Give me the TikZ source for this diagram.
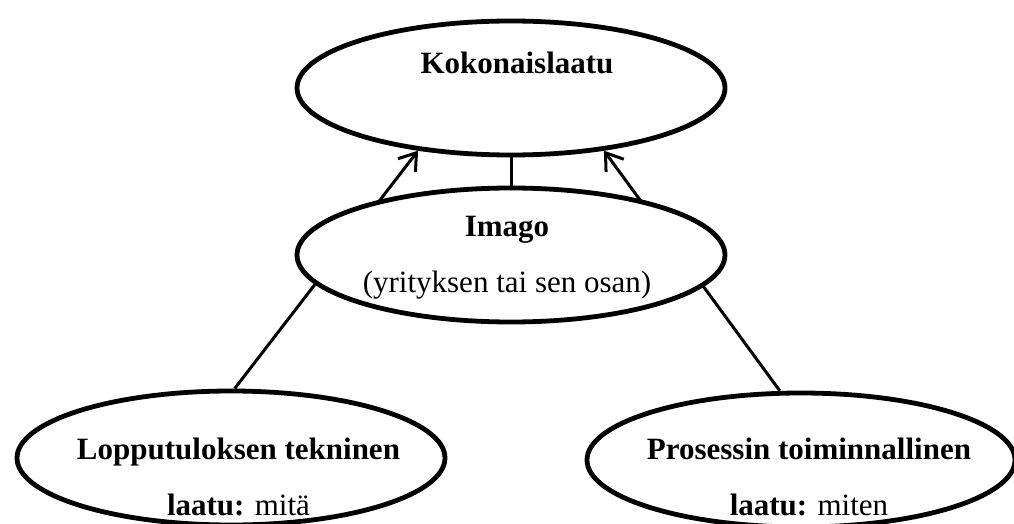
\documentclass[tikz,border=0pt]{standalone}
\usepackage{fontspec}
\setmainfont{Liberation Serif}
\usetikzlibrary{positioning}
\usetikzlibrary{backgrounds}
\usetikzlibrary{arrows.meta}
\usetikzlibrary{shapes.geometric}

\begin{document}
\begin{tikzpicture}[
            > = {Straight Barb[length=8pt, width=11pt]}, % open arrow head
            on grid, % distances between centres
            semithick % line style
        ]

        \tikzstyle{oval}=[
            ellipse,
            draw,
            line width = 2.4pt,
            fill = white,
            minimum width = 214pt,
            minimum height = 67pt,
            inner sep = 0pt
        ]
        \tikzstyle{caption}=[
            align = center,
            inner sep = 0pt,
            font = \fontsize{15.5}{28}\selectfont
        ]
        \tikzstyle{link}=[line width = 1.5pt]

        \useasboundingbox (0,0) rectangle (507pt,-262pt);

	% quality levels
        \node[oval] (Koko) at (255.5pt,-44pt) {};
        \node[oval] (Imago) [below=83.5pt of Koko] {};
        \node[oval] (Lop) [below left=101.5pt and 140pt of Imago] {};
        \node[oval] (Pro) [below right=102.5pt and 145pt of Imago] {};

        % texts
        \node[caption, xshift=3pt, yshift=12.75pt] (KokoT) at (Koko) {\textbf{Kokonaislaatu}};
        \node[caption, xshift=-2pt, yshift=-1.5pt] (ImagoT) at (Imago) {\textbf{Imago}\\(yrityksen tai sen osan)};
        \node[caption, xshift=3.75pt, yshift=-9.25pt] (LopT) at (Lop) {\textbf{Lopputuloksen tekninen}\\\textbf{laatu:} mitä};
        \node[caption, xshift=4pt, yshift=-8.25pt] (ProT) at (Pro) {\textbf{Prosessin toiminnallinen}\\\textbf{laatu:} miten};

        \begin{scope}[on background layer]
          \path[link,->] (Lop.87) edge (Koko.214);
          \path[link,->] (Pro.107) edge (Koko.326);
          \path[link] (Koko.south) edge (Imago.north);
        \end{scope}

\end{tikzpicture}
\end{document}
